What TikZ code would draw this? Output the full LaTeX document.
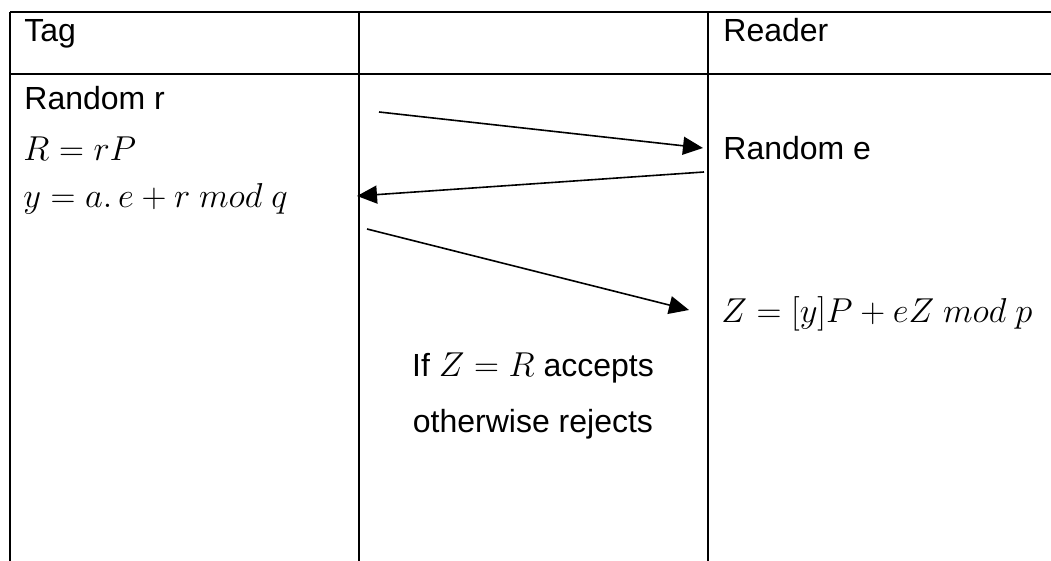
\documentclass[tikz,border=0pt]{standalone}
\usepackage{amsmath, amssymb}
\usepackage{fontspec}
\setmainfont{Liberation Sans}
\usetikzlibrary{arrows.meta}

\begin{document}
\begin{tikzpicture}[x=0.5pt, y=-0.5pt,
	cell/.style={anchor=base west, inner sep=0pt, font=\fontsize{16}{19}\selectfont},
	note/.style={anchor=base, inner sep=0pt, font=\fontsize{16}{19}\selectfont},
	msg/.style={-{Triangle[length=10pt, width=9pt]}, line width=0.8pt}]
	\useasboundingbox (0,0) rectangle (1051,561);
	
	% Drawing the table lines
	\draw[line width=1.1pt] (10,12) -- (1051,12);
	\draw[line width=1.1pt] (10,74) -- (1051,74);
	\draw[line width=1.1pt] (10,12) -- (10,561);
	\draw[line width=1.1pt] (359,12) -- (359,561);
	\draw[line width=1.1pt] (708,12) -- (708,561);
	
	% Drawing the column heads
	\node[cell] (tag) at (24,42) {Tag};
	\node[cell] (reader) at (723,42) {Reader};
	
	% Drawing the tag side
	\node[cell] (rndr) at (24,110) {Random r};
	\node[cell] (comR) at (23,161) {$R = rP$};
	\node[cell] (resp) at (23,208) {$y = a.\,e + r\ mod\ q$};
	
	% Drawing the reader side
	\node[cell] (rnde) at (723,160) {Random e};
	\node[cell] (check) at (721,323) {$Z = [y]P + eZ\ mod\ p$};
	
	% Drawing the decision
	\node[note] (accept) at (533,377) {If $Z = R$ accepts};
	\node[note] (reject) at (533,433) {otherwise rejects};
	
	% Drawing the messages
	\coordinate (m1s) at (379,112);
	\coordinate (m1e) at (703,148);
	\coordinate (m2s) at (704,172);
	\coordinate (m2e) at (357,196);
	\coordinate (m3s) at (367,229);
	\coordinate (m3e) at (689,310);
	\draw[msg] (m1s) -- (m1e);
	\draw[msg] (m2s) -- (m2e);
	\draw[msg] (m3s) -- (m3e);
\end{tikzpicture}
\end{document}
